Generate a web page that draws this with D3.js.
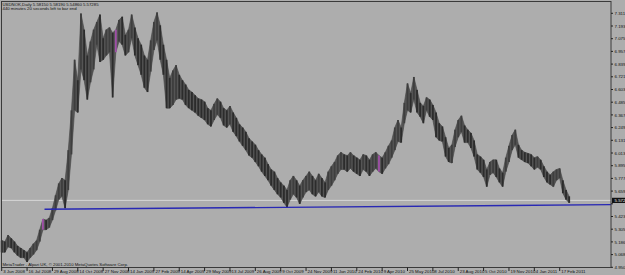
<!DOCTYPE html>
<html>
<head>
<meta charset="utf-8">
<script src="https://cdn.jsdelivr.net/npm/d3@7"></script>
<style>
  html, body { margin: 0; padding: 0; background: #adadad; overflow: hidden; }
  text { font-family: "Liberation Sans", Arial, sans-serif; }
</style>
</head>
<body>
<svg id="canvas" width="625" height="275"></svg>
<script>
// USDNOK daily, one entry per 4 bars (high / low)
var highs = [
  5.20, 5.19, 5.25, 5.22, 5.19, 5.15, 5.13, 5.11, 5.09, 5.13,
  5.17, 5.20, 5.30, 5.40, 5.39, 5.41, 5.50, 5.62, 5.73, 5.78,
  5.76, 6.04, 6.41, 6.88, 6.69, 7.31, 7.16, 6.92, 7.05, 7.16,
  7.23, 7.30, 7.08, 7.16, 7.18, 7.13, 7.16, 7.25, 7.28, 7.11,
  7.16, 7.30, 7.18, 7.08, 7.02, 6.92, 6.88, 7.06, 7.23, 7.32,
  7.20, 7.02, 6.88, 6.71, 6.78, 6.83, 6.74, 6.69, 6.65, 6.60,
  6.58, 6.55, 6.52, 6.51, 6.49, 6.43, 6.41, 6.47, 6.52, 6.49,
  6.43, 6.41, 6.45, 6.39, 6.34, 6.28, 6.25, 6.21, 6.15, 6.12,
  6.09, 6.04, 6.00, 5.97, 5.91, 5.86, 5.84, 5.78, 5.74, 5.71,
  5.67, 5.76, 5.80, 5.76, 5.71, 5.76, 5.80, 5.84, 5.80, 5.76,
  5.82, 5.78, 5.74, 5.84, 5.89, 5.93, 5.99, 6.02, 6.00, 5.99,
  6.02, 5.99, 5.97, 5.95, 6.00, 5.99, 5.95, 6.00, 6.02, 5.99,
  5.97, 6.02, 6.08, 6.13, 6.25, 6.32, 6.25, 6.48, 6.66, 6.57,
  6.72, 6.60, 6.48, 6.45, 6.53, 6.51, 6.46, 6.39, 6.29, 6.26,
  6.16, 6.06, 6.09, 6.23, 6.32, 6.36, 6.27, 6.23, 6.20, 6.13,
  6.00, 5.98, 5.95, 5.86, 5.93, 5.95, 5.95, 5.87, 5.83, 5.97,
  6.08, 6.18, 6.23, 6.09, 6.04, 6.02, 6.01, 6.00, 5.97, 5.98,
  5.95, 5.89, 5.84, 5.81, 5.84, 5.86, 5.87, 5.76, 5.67, 5.61
]
var lows = [
  5.09, 5.09, 5.14, 5.13, 5.09, 5.06, 5.04, 5.04, 5.00, 5.04,
  5.07, 5.11, 5.19, 5.30, 5.30, 5.32, 5.39, 5.48, 5.58, 5.61,
  5.50, 5.67, 6.00, 6.41, 6.39, 6.79, 6.69, 6.51, 6.67, 6.79,
  7.02, 6.86, 6.88, 6.92, 6.95, 6.53, 6.95, 7.05, 7.02, 6.92,
  6.95, 7.08, 6.92, 6.83, 6.74, 6.62, 6.58, 6.77, 6.97, 7.06,
  6.88, 6.74, 6.43, 6.43, 6.46, 6.51, 6.52, 6.51, 6.46, 6.43,
  6.41, 6.39, 6.36, 6.34, 6.32, 6.28, 6.26, 6.32, 6.37, 6.34,
  6.27, 6.25, 6.28, 6.21, 6.17, 6.12, 6.08, 6.04, 5.99, 5.97,
  5.93, 5.89, 5.84, 5.80, 5.76, 5.71, 5.67, 5.63, 5.60, 5.55,
  5.51, 5.58, 5.63, 5.60, 5.54, 5.60, 5.65, 5.67, 5.63, 5.61,
  5.65, 5.61, 5.60, 5.67, 5.71, 5.76, 5.82, 5.86, 5.86, 5.84,
  5.87, 5.84, 5.82, 5.80, 5.86, 5.84, 5.80, 5.84, 5.87, 5.84,
  5.82, 5.87, 5.91, 5.97, 6.04, 6.12, 6.11, 6.29, 6.41, 6.39,
  6.51, 6.39, 6.35, 6.29, 6.41, 6.35, 6.32, 6.16, 6.13, 6.12,
  5.98, 5.93, 5.92, 6.07, 6.16, 6.21, 6.11, 6.11, 6.06, 5.98,
  5.86, 5.83, 5.79, 5.70, 5.81, 5.83, 5.79, 5.74, 5.70, 5.84,
  5.93, 6.04, 6.09, 5.97, 5.95, 5.93, 5.92, 5.89, 5.86, 5.88,
  5.86, 5.79, 5.74, 5.72, 5.70, 5.76, 5.78, 5.64, 5.58, 5.55
]
var priceTicks = [
  7.31185, 7.19380, 7.07575, 6.95770, 6.83965, 6.72160, 6.60355,
  6.48550, 6.36745, 6.24940, 6.13135, 6.01330, 5.89525, 5.77720,
  5.65915, 5.54110, 5.42305, 5.30500, 5.18695, 5.06890, 4.95085
]
var dateLabels = [
  '3 Jun 2008', '16 Jul 2008', '29 Aug 2008', '14 Oct 2008', '27 Nov 2008',
  '14 Jan 2009', '27 Feb 2009', '14 Apr 2009', '29 May 2009', '13 Jul 2009',
  '26 Aug 2009', '9 Oct 2009', '24 Nov 2009', '11 Jan 2010', '24 Feb 2010',
  '9 Apr 2010', '25 May 2010', '8 Jul 2010', '23 Aug 2010', '5 Oct 2010',
  '19 Nov 2010', '4 Jan 2011', '17 Feb 2011'
]
var highlighted = [13, 36, 119]
var trendLine = [[13.5, 5.49], [179, 5.53]]
var bid = 5.57285
var title = 'USDNOK,Daily  5.58150 5.58190 5.54860 5.57285'
var comment = '440 minutes 20 seconds left to bar end'
var footer = 'MetaTrader - Alpari UK, \u00a9 2001-2010 MetaQuotes Software Corp.'

var frame = { left: 1.5, top: 1.5, right: 611, bottom: 267.5 }
var svg = d3.select('#canvas')

var x = d3.scaleLinear().domain([0, 179]).range([1.7, 569.2])
var y = d3.scaleLinear().domain([4.95085, 7.31185]).range([267.3, 13.3])

// bid line
svg.append('line')
  .attr('x1', frame.left).attr('x2', frame.right)
  .attr('y1', y(bid)).attr('y2', y(bid))
  .attr('stroke', '#d6d6d6').attr('stroke-width', 1)

// high-low band behind the bars so the candles read as one dense strip
var band = d3.area()
  .x(function (d, i) { return x(i) })
  .y0(function (d, i) { return y(lows[i]) })
  .y1(function (d) { return y(d) })
svg.append('path')
  .datum(highs)
  .attr('d', band)
  .attr('fill', '#555')
  .attr('stroke', '#444')
  .attr('stroke-width', 0.6)

// candles
var mids = highs.map(function (h, i) { return (h + lows[i]) / 2 })
svg.append('g').selectAll('rect')
  .data(highs)
  .enter().append('rect')
  .attr('x', function (d, i) { return x(i) - 0.9 })
  .attr('width', 1.8)
  .attr('y', function (d) { return y(d) })
  .attr('height', function (d, i) { return Math.max(1, y(lows[i]) - y(d)) })
  .attr('fill', function (d, i) {
    if (highlighted.indexOf(i) >= 0) return '#a050a8'
    return (i > 0 && mids[i] > mids[i - 1]) ? '#3e3e3e' : '#2c2c2c'
  })

// trend line, extended as a ray to the right border
var slope = (trendLine[1][1] - trendLine[0][1]) / (trendLine[1][0] - trendLine[0][0])
var endIdx = x.invert(frame.right)
svg.append('line')
  .attr('x1', x(trendLine[0][0])).attr('y1', y(trendLine[0][1]))
  .attr('x2', x(endIdx)).attr('y2', y(trendLine[0][1] + slope * (endIdx - trendLine[0][0])))
  .attr('stroke', '#2828b4').attr('stroke-width', 1.4)

// frame
svg.append('rect')
  .attr('x', frame.left).attr('y', frame.top)
  .attr('width', frame.right - frame.left).attr('height', frame.bottom - frame.top)
  .attr('fill', 'none').attr('stroke', '#3a3a3a').attr('stroke-width', 1)

// price axis (labels hidden where the current price box sits, like the terminal does)
var shownTicks = priceTicks.filter(function (d) { return Math.abs(y(d) - y(bid)) > 5 })
var yAxis = svg.append('g')
yAxis.selectAll('line')
  .data(priceTicks)
  .enter().append('line')
  .attr('x1', frame.right).attr('x2', frame.right + 2)
  .attr('y1', function (d) { return y(d) }).attr('y2', function (d) { return y(d) })
  .attr('stroke', '#222')
yAxis.selectAll('text')
  .data(shownTicks)
  .enter().append('text')
  .attr('x', frame.right + 3.5)
  .attr('y', function (d) { return y(d) + 1.6 })
  .attr('font-size', 4.4)
  .attr('fill', '#111')
  .text(function (d) { return d.toFixed(5) })

// current price label
svg.append('rect')
  .attr('x', frame.right + 1).attr('y', y(bid) - 2.6)
  .attr('width', 14).attr('height', 5.2)
  .attr('fill', '#111')
svg.append('text')
  .attr('x', frame.right + 3.5).attr('y', y(bid) + 1.6)
  .attr('font-size', 4.4).attr('fill', '#e8e8e8')
  .text(bid.toFixed(5))

// time axis
var xAxis = svg.append('g')
xAxis.selectAll('line')
  .data(dateLabels)
  .enter().append('line')
  .attr('x1', function (d, i) { return x(i * 8) }).attr('x2', function (d, i) { return x(i * 8) })
  .attr('y1', frame.bottom).attr('y2', frame.bottom + 3.5)
  .attr('stroke', '#222')
xAxis.selectAll('text')
  .data(dateLabels)
  .enter().append('text')
  .attr('x', function (d, i) { return x(i * 8) + 1.5 })
  .attr('y', 273.2)
  .attr('font-size', 4.4)
  .attr('fill', '#111')
  .text(function (d) { return d })

// header and footer texts
svg.append('text').attr('x', 2.5).attr('y', 6.2)
  .attr('font-size', 4.3).attr('fill', '#111').text(title)
svg.append('text').attr('x', 2.5).attr('y', 10.2)
  .attr('font-size', 4.3).attr('fill', '#111').text(comment)
svg.append('text').attr('x', 2.5).attr('y', 265.5)
  .attr('font-size', 4.3).attr('fill', '#111').text(footer)
</script>
</body>
</html>
